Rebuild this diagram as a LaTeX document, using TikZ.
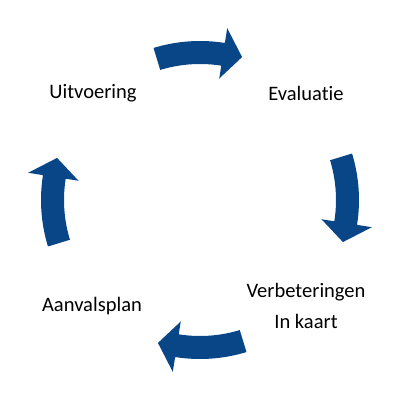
\documentclass[tikz,border=0pt]{standalone}
\usepackage{fontspec}
\setmainfont[Ligatures={NoCommon}]{Carlito}
\definecolor{cycleblue}{RGB}{9,70,136}
\begin{document}
\begin{tikzpicture}[
  cyclearrow/.style = {fill=cycleblue, draw=none},
  cyclelbl/.style = {font=\fontsize{14.6}{22}\selectfont, align=center, inner sep=0pt}
]
  % canvas
  \useasboundingbox (-5,-5) rectangle (5,5);
  % curved arrows, clockwise
  \foreach \c in {90,0,-90,180} {
    \fill[cyclearrow] (\c+17:3.4)
      arc[start angle=\c+17, end angle=\c-9, radius=3.4]
      -- (\c-9:3.075) -- (\c-16.4:3.725) -- (\c-9:4.35) -- (\c-9:3.975)
      arc[start angle=\c-9, end angle=\c+17, radius=3.975] -- cycle;
  }
  % labels
  \node[cyclelbl] (uitvoering) at (-2.675,2.675) {Uitvoering};
  \node[cyclelbl] (evaluatie) at (2.65,2.675) {Evaluatie};
  \node[cyclelbl] (verbeteringen) at (2.65,-2.65) {Verbeteringen\\In kaart};
  \node[cyclelbl] (aanvalsplan) at (-2.7,-2.65) {Aanvalsplan};
\end{tikzpicture}
\end{document}
